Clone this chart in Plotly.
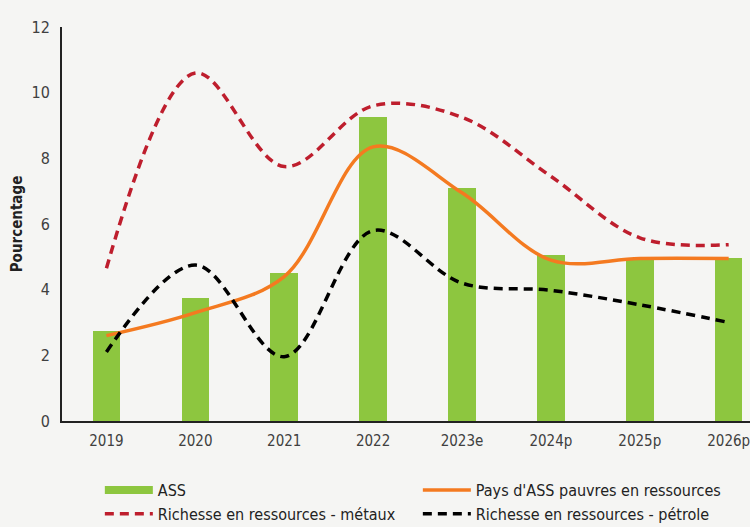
import plotly.graph_objects as go

categories = ["2019", "2020", "2021", "2022", "2023e", "2024p", "2025p", "2026p"]
ass = [2.75, 3.75, 4.5, 9.25, 7.1, 5.05, 4.93, 4.97]
pauvres = [2.6, 3.3, 4.4, 8.35, 6.95, 4.9, 4.95, 4.95]
metaux = [4.65, 10.6, 7.75, 9.6, 9.25, 7.45, 5.58, 5.37]
petrole = [2.1, 4.75, 1.96, 5.8, 4.2, 3.98, 3.54, 3.0]
y_ticks = [0, 2, 4, 6, 8, 10, 12]

FONT = "DejaVu Sans Condensed, Liberation Sans Narrow, sans-serif"
GREEN = "#8dc63f"
ORANGE = "#f47a20"
RED = "#be1e2d"
BLACK = "#000000"

x = list(range(len(categories)))

fig = go.Figure()
fig.add_trace(go.Bar(x=x, y=ass, marker=dict(color=GREEN, line=dict(width=0)),
                     width=0.31, showlegend=False, name="ASS"))
fig.add_trace(go.Scatter(x=x, y=pauvres, mode="lines", showlegend=False,
                         line=dict(color=ORANGE, width=3.5, shape="spline", smoothing=1)))
fig.add_trace(go.Scatter(x=x, y=metaux, mode="lines", showlegend=False,
                         line=dict(color=RED, width=3.5, shape="spline", smoothing=1, dash="9px,6px")))
fig.add_trace(go.Scatter(x=x, y=petrole, mode="lines", showlegend=False,
                         line=dict(color=BLACK, width=3.5, shape="spline", smoothing=1, dash="9px,6px")))

# legend proxies
fig.add_trace(go.Scatter(x=[None], y=[None], mode="lines", name="ASS",
                         line=dict(color=GREEN, width=8)))
fig.add_trace(go.Scatter(x=[None], y=[None], mode="lines", name="Pays d'ASS pauvres en ressources",
                         line=dict(color=ORANGE, width=3.5)))
fig.add_trace(go.Scatter(x=[None], y=[None], mode="lines", name="Richesse en ressources - métaux",
                         line=dict(color=RED, width=3.5, dash="9px,6px")))
fig.add_trace(go.Scatter(x=[None], y=[None], mode="lines", name="Richesse en ressources - pétrole",
                         line=dict(color=BLACK, width=3.5, dash="9px,6px")))

fig.update_layout(
    width=750, height=527,
    margin=dict(l=62, r=0, t=27, b=106),
    paper_bgcolor="#f5f5f3", plot_bgcolor="#f5f5f3",
    font=dict(family=FONT, size=15, color="#404040"),
    bargap=0,
    legend=dict(orientation="h", x=0.055, xanchor="left",
                yref="container", y=0.1025, yanchor="top",
                entrywidth=255, entrywidthmode="pixels", tracegroupgap=0,
                font=dict(family=FONT, size=16, color="#222222"),
                bgcolor="rgba(0,0,0,0)", itemwidth=48),
    xaxis=dict(tickmode="array", tickvals=x, ticktext=categories, range=[-0.5, 7.24],
               showline=True, linecolor="#222222", linewidth=2, showgrid=False,
               ticks="", zeroline=False, fixedrange=True, automargin=False,
               ticklabeloverflow="allow", ticklabelstandoff=5),
    yaxis=dict(range=[0, 12], tickvals=y_ticks, showline=True, linecolor="#222222",
               linewidth=2, showgrid=False, zeroline=False, ticks="", automargin=False,
               ticklabelstandoff=7, tickfont=dict(size=16),
               title=dict(text="<b>Pourcentage</b>", font=dict(size=15, color="#222222"), standoff=5)),
)

fig.write_html("out.html", config={"displayModeBar": False},
               post_script="document.body.style.margin='0';document.body.style.background='#f5f5f3';")
